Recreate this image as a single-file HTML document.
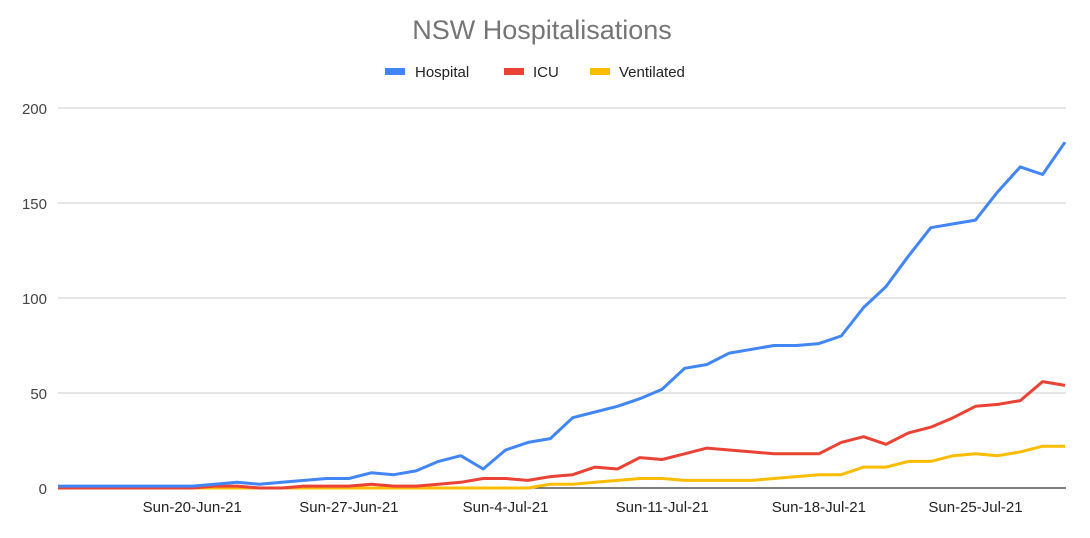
<!DOCTYPE html>
<html><head><meta charset="utf-8"><style>
body{margin:0;background:#fff;font-family:"Liberation Sans",Arial,sans-serif}
svg{display:block}
</style></head><body>
<svg id="chart" width="1090" height="538" xmlns="http://www.w3.org/2000/svg">
<text x="542" y="39" text-anchor="middle" font-size="27" fill="#757575">NSW Hospitalisations</text>
<g font-size="15" fill="#222">
<g><rect x="385" y="68" width="20" height="7" fill="#4285f4"/><text x="415" y="77">Hospital</text></g>
<g><rect x="504" y="68" width="20" height="7" fill="#ea4335"/><text x="533" y="77">ICU</text></g>
<g><rect x="590" y="68" width="20" height="7" fill="#fbbc04"/><text x="619" y="77">Ventilated</text></g>
</g>
<g id="grid"></g><g id="series"></g><g id="xaxis"></g>
</svg>
<script>
const yTicks=[0,50,100,150,200];
const xTickLabels=["Sun-20-Jun-21","Sun-27-Jun-21","Sun-4-Jul-21","Sun-11-Jul-21","Sun-18-Jul-21","Sun-25-Jul-21"];
const xTickIndex=[6,13,20,27,34,41];
const hospital=[1,1,1,1,1,1,1,2,3,2,3,4,5,5,8,7,9,14,17,10,20,24,26,37,40,43,47,52,63,65,71,73,75,75,76,80,95,106,122,137,139,141,156,169,165,182];
const icu=[0,0,0,0,0,0,0,1,1,0,0,1,1,1,2,1,1,2,3,5,5,4,6,7,11,10,16,15,18,21,20,19,18,18,18,24,27,23,29,32,37,43,44,46,56,54];
const ventilated=[0,0,0,0,0,0,0,0,0,0,0,0,0,0,0,0,0,0,0,0,0,0,2,2,3,4,5,5,4,4,4,4,5,6,7,7,11,11,14,14,17,18,17,19,22,22];
const NS="http://www.w3.org/2000/svg";
const x0=58,x1=1065,yBase=488,yTop=108;
const xs=i=>x0+(x1-x0)*i/(hospital.length-1);
const ys=v=>yBase-(yBase-yTop)*v/200;
const grid=document.getElementById('grid');
yTicks.forEach(t=>{
 const l=document.createElementNS(NS,'line');
 
 
 l.setAttribute('x1',x0);l.setAttribute('x2',1066);l.setAttribute('y1',ys(t));l.setAttribute('y2',ys(t));
 l.setAttribute('stroke',t===0?'#333':'#ccc');l.setAttribute('stroke-width',t===0?1.3:1);
 grid.appendChild(l);
 const tx=document.createElementNS(NS,'text');
 
 
 tx.setAttribute('x',47);tx.setAttribute('y',ys(t)+6);tx.setAttribute('text-anchor','end');
 tx.setAttribute('font-size','15');tx.setAttribute('fill','#444');tx.textContent=t;
 grid.appendChild(tx);
});
const xa=document.getElementById('xaxis');
xTickLabels.forEach((s,k)=>{
 const tx=document.createElementNS(NS,'text');
 
 
 tx.setAttribute('x',xs(xTickIndex[k]));tx.setAttribute('y',512);tx.setAttribute('text-anchor','middle');
 tx.setAttribute('font-size','15');tx.setAttribute('fill','#222');tx.textContent=s;
 xa.appendChild(tx);
});
const sg=document.getElementById('series');
[[ventilated,'#fbbc04','ventilated-line'],[icu,'#ea4335','icu-line'],[hospital,'#4285f4','hospital-line']].forEach(([d,c,n])=>{
 const p=document.createElementNS(NS,'polyline');
 
 
 p.setAttribute('points',d.map((v,i)=>xs(i)+','+ys(v)).join(' '));
 p.setAttribute('fill','none');p.setAttribute('stroke',c);p.setAttribute('stroke-width','3');p.setAttribute('stroke-linejoin','round');
 sg.appendChild(p);
});
</script>
</body></html>
